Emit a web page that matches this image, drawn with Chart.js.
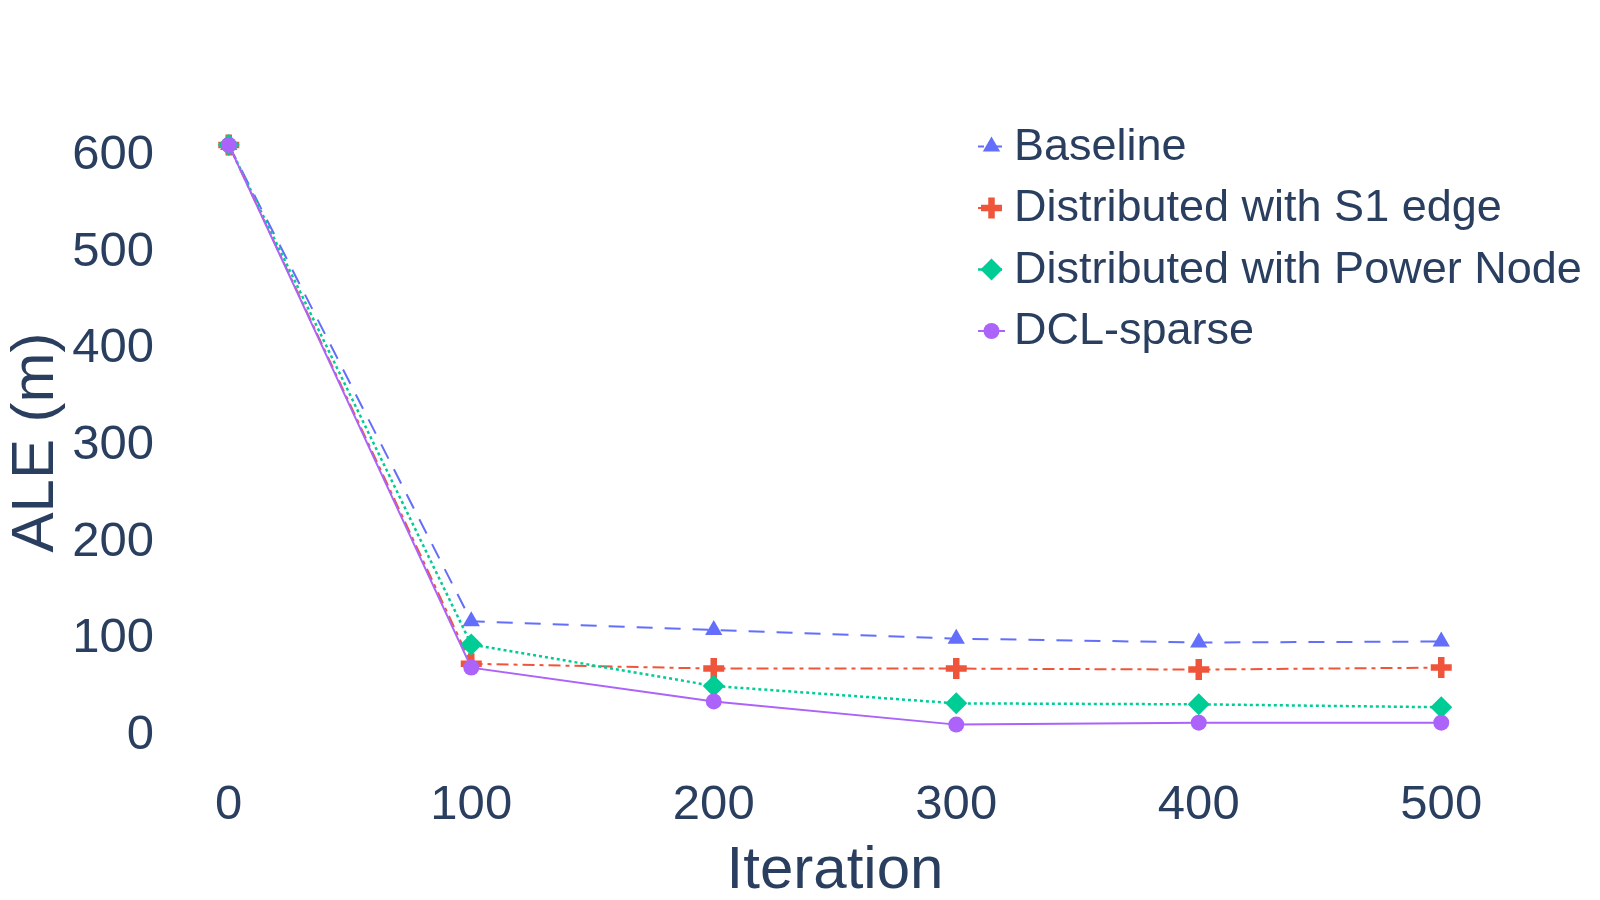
<!DOCTYPE html>
<html>
<head>
<meta charset="utf-8">
<script src="https://cdn.jsdelivr.net/npm/chart.js@4.4.0/dist/chart.umd.min.js"></script>
<style>
    html, body { margin: 0; padding: 0; background: #ffffff; }
    #wrap { width: 1600px; height: 900px; }
</style>
</head>
<body>
<div id="wrap"><canvas id="main-chart"></canvas></div>
<script>
// values
const iterations = [0, 100, 200, 300, 400, 500];
const baseline   = [608, 115, 106, 97, 93, 94];
const s1_edge    = [608, 71, 66, 66, 65, 67];
const power_node = [608, 91, 48, 30, 29, 26];
const dcl_sparse = [608, 67, 32, 8, 10, 10];

const x_ticks = [0, 100, 200, 300, 400, 500];
const y_ticks = [0, 100, 200, 300, 400, 500, 600];

const text_color = "#2a3f5f";
const font_family = "'Liberation Sans', Arial, sans-serif";

function points(ys)
{
    return iterations.map((x, i) => ({x: x, y: ys[i]}));
}

const datasets = [
    {
        label: 'Baseline',
        data: points(baseline),
        borderColor: "#636efa",
        backgroundColor: "#636efa",
        borderWidth: 2,
        borderDash: [16, 12],
        pointStyle: 'triangle',
        pointRadius: 10,
        pointBorderWidth: 0,
        order: 4
    },
    {
        label: 'Distributed with S1 edge',
        data: points(s1_edge),
        borderColor: "#EF553B",
        backgroundColor: "#EF553B",
        borderWidth: 2,
        borderDash: [12, 5, 4, 5],
        pointStyle: 'cross',
        pointRadius: 10.5,
        pointBorderWidth: 6.5,
        order: 3
    },
    {
        label: 'Distributed with Power Node',
        data: points(power_node),
        borderColor: "#00cc96",
        backgroundColor: "#00cc96",
        borderWidth: 2.5,
        borderDash: [3, 3],
        pointStyle: 'rectRot',
        pointRadius: 11,
        pointBorderWidth: 0,
        order: 2
    },
    {
        label: 'DCL-sparse',
        data: points(dcl_sparse),
        borderColor: "#ab63fa",
        backgroundColor: "#ab63fa",
        borderWidth: 2,
        borderDash: [],
        pointStyle: 'circle',
        pointRadius: 8,
        pointBorderWidth: 0,
        order: 1
    }
];

// legend drawn inside the plot, line + marker + label like the reference
const insideLegend = {
    id: 'insideLegend',
    afterDraw(chart, args, opts) {
        const ctx = chart.ctx;
        ctx.save();
        chart.data.datasets.forEach((ds, i) => {
            let y = opts.top + i*opts.row;
            ctx.strokeStyle = ds.borderColor;
            ctx.fillStyle = ds.backgroundColor;
            ctx.lineWidth = ds.borderWidth;
            ctx.setLineDash(ds.borderDash.length ? [6, 3] : []);
            ctx.beginPath();
            ctx.moveTo(opts.left, y);
            ctx.lineTo(opts.left + opts.lineLen, y);
            ctx.stroke();
            ctx.setLineDash([]);
            ctx.lineWidth = ds.pointBorderWidth;
            Chart.helpers.drawPoint(ctx, {
                pointStyle: ds.pointStyle,
                radius: ds.pointRadius,
                borderWidth: ds.pointBorderWidth,
                rotation: 0
            }, opts.left + opts.lineLen/2, y);

            ctx.fillStyle = text_color;
            ctx.font = opts.fontSize + "px " + font_family;
            ctx.textBaseline = "middle";
            ctx.textAlign = "left";
            ctx.fillText(ds.label, opts.textX, y + 1);
        });
        ctx.restore();
    }
};

Chart.defaults.font.family = font_family;
Chart.defaults.color = text_color;

const config = {
    type: 'line',
    data: { datasets: datasets },
    options: {
        responsive: true,
        maintainAspectRatio: false,
        animation: false,
        layout: {
            padding: { top: 114, right: 86, bottom: 0, left: 0 }
        },
        plugins: {
            legend: { display: false },
            tooltip: { enabled: false },
            insideLegend: {
                left: 978,
                lineLen: 27,
                textX: 1014,
                top: 146.5,
                row: 61.5,
                fontSize: 45
            }
        },
        scales: {
            x: {
                type: 'linear',
                min: -30,
                max: 530,
                grid: { display: false },
                border: { display: false },
                afterBuildTicks: (scale) => { scale.ticks = x_ticks.map(v => ({value: v})); },
                afterFit: (scale) => { scale.height = 129; },
                ticks: {
                    font: { size: 49 },
                    color: text_color,
                    padding: -3,
                    maxRotation: 0
                },
                title: {
                    display: true,
                    text: 'Iteration',
                    font: { size: 60 },
                    color: text_color,
                    padding: { top: 0, bottom: -7 }
                }
            },
            y: {
                min: -40,
                max: 640,
                grid: { display: false },
                border: { display: false },
                afterBuildTicks: (scale) => { scale.ticks = y_ticks.map(v => ({value: v})); },
                afterFit: (scale) => { scale.width = 156; },
                ticks: {
                    font: { size: 49 },
                    color: text_color,
                    padding: -6,
                    labelOffset: 3
                },
                title: {
                    display: true,
                    text: 'ALE (m)',
                    font: { size: 60 },
                    color: text_color,
                    padding: { top: 0, bottom: 0 }
                }
            }
        }
    },
    plugins: [insideLegend]
};

const main_chart = new Chart(document.getElementById("main-chart"), config);
</script>
</body>
</html>
